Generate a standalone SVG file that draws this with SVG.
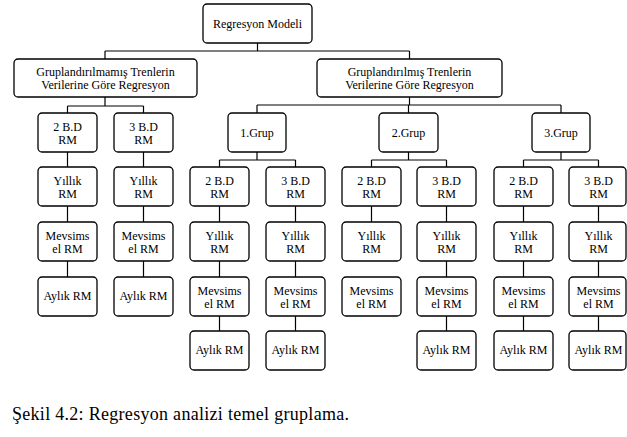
<svg xmlns="http://www.w3.org/2000/svg" width="627" height="437" viewBox="0 0 627 437">
<style>
.n rect{fill:#fff;stroke:#000;stroke-width:1.3}
.n text{font-family:"Liberation Serif","Times New Roman",serif;font-size:12px;fill:#000;text-anchor:middle}
.c{stroke:#000;stroke-width:1.2;fill:none}
.cap{font-family:"Liberation Serif","Times New Roman",serif;font-size:18px;fill:#000}
</style>
<rect width="627" height="437" fill="#fff"/>
<g id="connectors" class="c">
<path d="M257.5 43V51M105 51H409.5M105 51V59M409.5 51V59"/>
<path d="M105 97V106M67.5 106H143.5M67.5 106V113M143.5 106V113"/>
<path d="M409.5 97V105M257 105H561M257 105V113M408.5 105V113M561 105V113"/>
<path d="M67.5 152V167M67.5 206V222M67.5 261V277M143.5 152V167M143.5 206V222M143.5 261V277"/>
<path d="M257 152V160M219.5 160H295.5M219.5 160V167M295.5 160V167"/>
<path d="M408.5 152V160M371.5 160H446.5M371.5 160V167M446.5 160V167"/>
<path d="M561 152V160M523.5 160H598.5M523.5 160V167M598.5 160V167"/>
<path d="M219.5 206V222M219.5 261V277M219.5 316V331M295.5 206V222M295.5 261V277M295.5 316V331"/>
<path d="M371.5 206V222M446.5 206V222M446.5 261V277M446.5 316V331"/>
<path d="M523.5 206V222M523.5 261V277M523.5 316V331M598.5 206V222M598.5 261V277M598.5 316V331"/>
</g>
<g id="root" class="n"><rect x="203" y="4" width="109" height="39" rx="4"/><text x="257.5" y="28">Regresyon Modeli</text></g>
<g id="ungrouped" class="n"><rect x="14" y="59" width="183" height="38" rx="4"/><text x="105.5" y="75.5">Gruplandırılmamış Trenlerin</text><text x="105.5" y="88.5">Verilerine Göre Regresyon</text></g>
<g id="grouped" class="n"><rect x="317" y="59" width="185" height="38" rx="4"/><text x="409.5" y="75.5">Gruplandırılmış Trenlerin</text><text x="409.5" y="88.5">Verilerine Göre Regresyon</text></g>

<g id="u2bd" class="n"><rect x="38" y="113" width="59" height="39" rx="4"/><text x="67.5" y="130.5">2 B.D</text><text x="67.5" y="143.5">RM</text></g>
<g id="u3bd" class="n"><rect x="114" y="113" width="59" height="39" rx="4"/><text x="143.5" y="130.5">3 B.D</text><text x="143.5" y="143.5">RM</text></g>
<g id="u2y" class="n"><rect x="38" y="167" width="59" height="39" rx="4"/><text x="67.5" y="184.5">Yıllık</text><text x="67.5" y="197.5">RM</text></g>
<g id="u3y" class="n"><rect x="114" y="167" width="59" height="39" rx="4"/><text x="143.5" y="184.5">Yıllık</text><text x="143.5" y="197.5">RM</text></g>
<g id="u2m" class="n"><rect x="38" y="222" width="59" height="39" rx="4"/><text x="67.5" y="239.5">Mevsims</text><text x="67.5" y="252.5">el RM</text></g>
<g id="u3m" class="n"><rect x="114" y="222" width="59" height="39" rx="4"/><text x="143.5" y="239.5">Mevsims</text><text x="143.5" y="252.5">el RM</text></g>
<g id="u2a" class="n"><rect x="38" y="277" width="59" height="39" rx="4"/><text x="67.5" y="300">Aylık RM</text></g>
<g id="u3a" class="n"><rect x="114" y="277" width="59" height="39" rx="4"/><text x="143.5" y="300">Aylık RM</text></g>

<g id="g1" class="n"><rect x="228" y="113" width="58" height="39" rx="4"/><text x="257" y="137">1.Grup</text></g>
<g id="g2" class="n"><rect x="379" y="113" width="59" height="39" rx="4"/><text x="408.5" y="137">2.Grup</text></g>
<g id="g3" class="n"><rect x="532" y="113" width="58" height="39" rx="4"/><text x="561" y="137">3.Grup</text></g>

<g id="g1_2bd" class="n"><rect x="190" y="167" width="59" height="39" rx="4"/><text x="219.5" y="184.5">2 B.D</text><text x="219.5" y="197.5">RM</text></g>
<g id="g1_3bd" class="n"><rect x="266" y="167" width="59" height="39" rx="4"/><text x="295.5" y="184.5">3 B.D</text><text x="295.5" y="197.5">RM</text></g>
<g id="g1_2y" class="n"><rect x="190" y="222" width="59" height="39" rx="4"/><text x="219.5" y="239.5">Yıllık</text><text x="219.5" y="252.5">RM</text></g>
<g id="g1_3y" class="n"><rect x="266" y="222" width="59" height="39" rx="4"/><text x="295.5" y="239.5">Yıllık</text><text x="295.5" y="252.5">RM</text></g>
<g id="g1_2m" class="n"><rect x="190" y="277" width="59" height="39" rx="4"/><text x="219.5" y="294.5">Mevsims</text><text x="219.5" y="307.5">el RM</text></g>
<g id="g1_3m" class="n"><rect x="266" y="277" width="59" height="39" rx="4"/><text x="295.5" y="294.5">Mevsims</text><text x="295.5" y="307.5">el RM</text></g>
<g id="g1_2a" class="n"><rect x="190" y="331" width="59" height="39" rx="4"/><text x="219.5" y="354">Aylık RM</text></g>
<g id="g1_3a" class="n"><rect x="266" y="331" width="59" height="39" rx="4"/><text x="295.5" y="354">Aylık RM</text></g>

<g id="g2_2bd" class="n"><rect x="342" y="167" width="59" height="39" rx="4"/><text x="371.5" y="184.5">2 B.D</text><text x="371.5" y="197.5">RM</text></g>
<g id="g2_3bd" class="n"><rect x="417" y="167" width="59" height="39" rx="4"/><text x="446.5" y="184.5">3 B.D</text><text x="446.5" y="197.5">RM</text></g>
<g id="g2_2y" class="n"><rect x="342" y="222" width="59" height="39" rx="4"/><text x="371.5" y="239.5">Yıllık</text><text x="371.5" y="252.5">RM</text></g>
<g id="g2_3y" class="n"><rect x="417" y="222" width="59" height="39" rx="4"/><text x="446.5" y="239.5">Yıllık</text><text x="446.5" y="252.5">RM</text></g>
<g id="g2_2m" class="n"><rect x="342" y="277" width="59" height="39" rx="4"/><text x="371.5" y="294.5">Mevsims</text><text x="371.5" y="307.5">el RM</text></g>
<g id="g2_3m" class="n"><rect x="417" y="277" width="59" height="39" rx="4"/><text x="446.5" y="294.5">Mevsims</text><text x="446.5" y="307.5">el RM</text></g>
<g id="g2_3a" class="n"><rect x="417" y="331" width="59" height="39" rx="4"/><text x="446.5" y="354">Aylık RM</text></g>

<g id="g3_2bd" class="n"><rect x="494" y="167" width="59" height="39" rx="4"/><text x="523.5" y="184.5">2 B.D</text><text x="523.5" y="197.5">RM</text></g>
<g id="g3_3bd" class="n"><rect x="569" y="167" width="57" height="39" rx="4"/><text x="598.5" y="184.5">3 B.D</text><text x="598.5" y="197.5">RM</text></g>
<g id="g3_2y" class="n"><rect x="494" y="222" width="59" height="39" rx="4"/><text x="523.5" y="239.5">Yıllık</text><text x="523.5" y="252.5">RM</text></g>
<g id="g3_3y" class="n"><rect x="569" y="222" width="57" height="39" rx="4"/><text x="598.5" y="239.5">Yıllık</text><text x="598.5" y="252.5">RM</text></g>
<g id="g3_2m" class="n"><rect x="494" y="277" width="59" height="39" rx="4"/><text x="523.5" y="294.5">Mevsims</text><text x="523.5" y="307.5">el RM</text></g>
<g id="g3_3m" class="n"><rect x="569" y="277" width="57" height="39" rx="4"/><text x="598.5" y="294.5">Mevsims</text><text x="598.5" y="307.5">el RM</text></g>
<g id="g3_2a" class="n"><rect x="494" y="331" width="59" height="39" rx="4"/><text x="523.5" y="354">Aylık RM</text></g>
<g id="g3_3a" class="n"><rect x="569" y="331" width="57" height="39" rx="4"/><text x="598.5" y="354">Aylık RM</text></g>

<text class="cap" x="12" y="420" textLength="337">Şekil 4.2: Regresyon analizi temel gruplama.</text>
</svg>
